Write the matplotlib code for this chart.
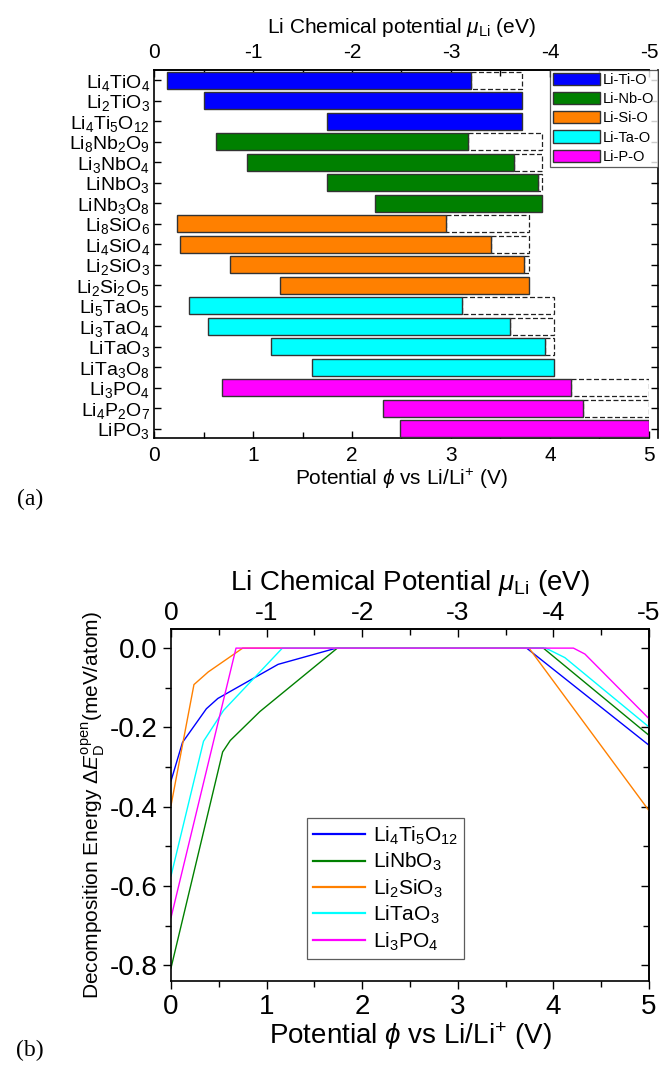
import re
import matplotlib
matplotlib.use('Agg')
from matplotlib import pyplot as plt
from matplotlib.ticker import MultipleLocator
from matplotlib.patches import Patch

plt.rcParams['font.family'] = ['Liberation Sans', 'DejaVu Sans']
plt.rcParams['mathtext.fontset'] = 'custom'
plt.rcParams['mathtext.rm'] = 'Liberation Sans'
plt.rcParams['mathtext.it'] = 'Liberation Sans:italic'
plt.rcParams['mathtext.bf'] = 'Liberation Sans:bold'
plt.rcParams['axes.unicode_minus'] = False

# (a) stability windows
compounds = ['Li4TiO4', 'Li2TiO3', 'Li4Ti5O12',
             'Li8Nb2O9', 'Li3NbO4', 'LiNbO3', 'LiNb3O8',
             'Li8SiO6', 'Li4SiO4', 'Li2SiO3', 'Li2Si2O5',
             'Li5TaO5', 'Li3TaO4', 'LiTaO3', 'LiTa3O8',
             'Li3PO4', 'Li4P2O7', 'LiPO3']
window_lo = [0.13, 0.50, 1.75,
             0.63, 0.94, 1.75, 2.23,
             0.23, 0.26, 0.77, 1.27,
             0.35, 0.55, 1.18, 1.60,
             0.69, 2.31, 2.48]
window_hi = [3.20, 3.72, 3.72,
             3.17, 3.64, 3.88, 3.92,
             2.95, 3.40, 3.74, 3.79,
             3.11, 3.60, 3.95, 4.04,
             4.21, 4.33, 5.00]
open_hi = [3.72, 3.72, 3.72,
           3.92, 3.92, 3.92, 3.92,
           3.79, 3.79, 3.79, 3.79,
           4.04, 4.04, 4.04, 4.04,
           5.00, 5.00, 5.00]
groups = ['Li-Ti-O', 'Li-Nb-O', 'Li-Si-O', 'Li-Ta-O', 'Li-P-O']
group_sizes = [3, 4, 4, 4, 3]
group_colors = ['#0000ff', '#008000', '#ff8000', '#00ffff', '#ff00ff']

# (b) decomposition energy
curve_names = ['Li4Ti5O12', 'LiNbO3', 'Li2SiO3', 'LiTaO3', 'Li3PO4']
curve_colors = ['#0000ff', '#008000', '#ff8000', '#00ffff', '#ff00ff']
curve_x = [[0, 0.12, 0.37, 0.49, 1.12, 1.73, 3.72, 5.0],
           [0, 0.54, 0.62, 0.93, 1.74, 3.895, 5.0],
           [0, 0.24, 0.39, 0.75, 3.745, 5.0],
           [0, 0.34, 0.55, 1.165, 3.92, 4.12, 5.0],
           [0, 0.68, 4.21, 4.33, 5.0]]
curve_y = [[-0.335, -0.238, -0.153, -0.127, -0.041, 0, 0, -0.245],
           [-0.807, -0.262, -0.233, -0.16, 0, 0, -0.22],
           [-0.397, -0.092, -0.06, 0, 0, -0.41],
           [-0.575, -0.235, -0.157, 0, 0, -0.024, -0.199],
           [-0.68, 0, 0, -0.015, -0.178]]


def chem(s):
    return r'$\mathregular{' + re.sub(r'(\d+)', r'_{\1}', s) + '}$'


def neg(x):
    return -x


fig = plt.figure(figsize=(6.59, 10.75), dpi=100)

# ---------- panel (a)
ax1 = fig.add_axes([0.2337, 0.5926, 0.7511, 0.3423])
colors = []
for c, n in zip(group_colors, group_sizes):
    colors += [c] * n
ypos = list(range(len(compounds)))
for i in ypos:
    if open_hi[i] > window_hi[i]:
        ax1.barh(i, open_hi[i] - window_hi[i], left=window_hi[i], height=0.83,
                 fill=False, edgecolor='#222222', linestyle=(0, (4, 2)),
                 linewidth=0.9, zorder=2)
ax1.barh(ypos, [h - l for l, h in zip(window_lo, window_hi)], left=window_lo,
         height=0.83, color=colors, edgecolor='#333333', linewidth=1.0, zorder=3)

ax1.set_xlim(0, 5)
ax1.set_ylim(17.44, -0.49)
ax1.xaxis.set_major_locator(MultipleLocator(1))
ax1.xaxis.set_minor_locator(MultipleLocator(0.5))
ax1.tick_params(axis='x', which='both', direction='in', labelsize=15, pad=6)
ax1.tick_params(axis='x', which='major', length=5, width=1)
ax1.tick_params(axis='x', which='minor', length=4, width=1)
ax1.tick_params(axis='y', direction='in', right=True, length=5, width=1, pad=3,
                labelsize=14)
ax1.spines['right'].set_position(('axes', 1.018))
ax1.set_yticks(ypos)
ax1.set_yticklabels([chem(s) for s in compounds])
for sp in ax1.spines.values():
    sp.set_linewidth(1.2)
ax1.set_xlabel(r'Potential $\phi$ vs Li/Li$^{+}$ (V)', fontsize=15, labelpad=1)

top1 = ax1.secondary_xaxis('top', functions=(neg, neg))
top1.set_xticks([0, -1, -2, -3, -4, -5])
top1.xaxis.set_minor_locator(MultipleLocator(0.5))
top1.tick_params(which='both', direction='in', labelsize=15, pad=6)
top1.tick_params(which='major', length=5, width=1)
top1.tick_params(which='minor', length=4, width=1)
top1.spines['top'].set_linewidth(1.2)
top1.set_xlabel(r'Li Chemical potential $\mu_{\mathrm{Li}}$ (eV)', fontsize=15, labelpad=7)

handles = [Patch(facecolor=c, edgecolor='#333333', linewidth=1.0) for c in group_colors]
leg1 = ax1.legend(handles, groups, loc='upper left', bbox_to_anchor=(0.8, 1.0),
                  borderaxespad=0, fontsize=10.5, frameon=True, fancybox=False,
                  handlelength=3.2, handleheight=0.9, handletextpad=0.25,
                  labelspacing=0.35, borderpad=0.2)
leg1.get_frame().set_edgecolor('#333333')
leg1.get_frame().set_linewidth(0.9)
leg1.set_zorder(5)

fig.text(0.045, 0.535, '(a)', fontsize=17, family='Liberation Serif',
         ha='center', va='center')

# ---------- panel (b)
ax2 = fig.add_axes([0.2595, 0.0874, 0.7253, 0.3274])
for x, y, c, name in zip(curve_x, curve_y, curve_colors, curve_names):
    ax2.plot(x, y, color=c, linewidth=1.0, label=chem(name))
ax2.set_xlim(0, 5)
ax2.set_ylim(-0.84, 0.048)
ax2.xaxis.set_major_locator(MultipleLocator(1))
ax2.xaxis.set_minor_locator(MultipleLocator(0.5))
ax2.yaxis.set_major_locator(MultipleLocator(0.2))
ax2.yaxis.set_minor_locator(MultipleLocator(0.1))
ax2.yaxis.set_major_formatter(matplotlib.ticker.FormatStrFormatter('%.1f'))
ax2.tick_params(which='both', direction='out', labelsize=20, width=1)
ax2.tick_params(which='major', length=6)
ax2.tick_params(which='minor', length=4)
for sp in ax2.spines.values():
    sp.set_linewidth(1.2)
ax2.set_xlabel(r'Potential $\phi$ vs Li/Li$^{+}$ (V)', fontsize=20, labelpad=0)
ax2.set_ylabel(r'Decomposition Energy $\Delta E_{\mathrm{D}}^{\mathrm{open}}$(meV/atom)',
               fontsize=15, labelpad=2)

top2 = ax2.secondary_xaxis('top', functions=(neg, neg))
top2.set_xticks([0, -1, -2, -3, -4, -5])
top2.xaxis.set_minor_locator(MultipleLocator(0.5))
top2.tick_params(which='both', direction='in', labelsize=19, width=1, pad=3)
top2.tick_params(which='major', length=6)
top2.tick_params(which='minor', length=4)
top2.spines['top'].set_linewidth(1.2)
top2.set_xlabel(r'Li Chemical Potential $\mu_{\mathrm{Li}}$ (eV)', fontsize=20, labelpad=8)

right2 = ax2.secondary_yaxis('right')
right2.yaxis.set_major_locator(MultipleLocator(0.2))
right2.yaxis.set_minor_locator(MultipleLocator(0.1))
right2.tick_params(which='both', direction='in', labelright=False, width=1)
right2.tick_params(which='major', length=6)
right2.tick_params(which='minor', length=4)
right2.spines['right'].set_linewidth(1.2)

leg2 = ax2.legend(loc='upper left', bbox_to_anchor=(0.2845, 0.463), borderaxespad=0,
                  fontsize=15, frameon=True, fancybox=False, handlelength=2.5,
                  handletextpad=0.35, labelspacing=0.2, borderpad=0.3)
leg2.get_frame().set_edgecolor('#333333')
leg2.get_frame().set_linewidth(0.9)
for line in leg2.get_lines():
    line.set_linewidth(1.6)

fig.text(0.045, 0.023, '(b)', fontsize=17, family='Liberation Serif',
         ha='center', va='center')

fig.savefig('out.png', dpi=100)
